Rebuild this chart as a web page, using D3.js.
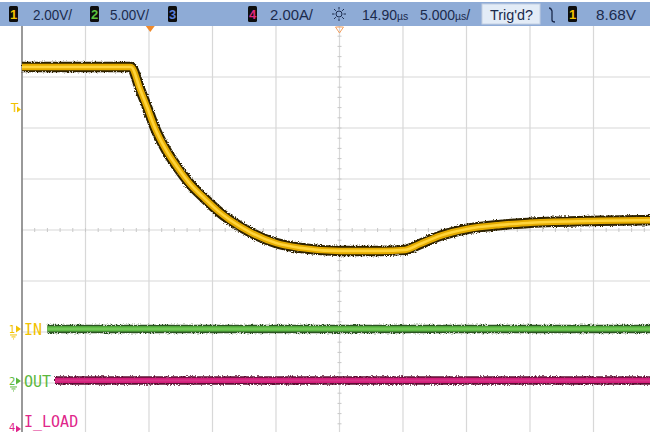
<!DOCTYPE html>
<html>
<head>
<meta charset="utf-8">
<script src="https://cdn.jsdelivr.net/npm/d3@7"></script>
<style>
  html, body { margin: 0; padding: 0; background: #ffffff; }
  svg { display: block; }
</style>
</head>
<body>
<svg id="scope" width="650" height="432"></svg>
<script>
// ---- Capture data -------------------------------------------------------
// Timebase: 5 µs/div, screen centre at 14.90 µs after the trigger.
const timePerDiv = 5.0;
const timeCenter = 14.90;
const hDivs = 10, vDivs = 8;

// Channel 1 (2 V/div): supply rail dip and recovery
const ch1Time  = [-10.1, -1.52, -0.81, -0.26, 0.37, 1.24, 2.18, 3.13, 4.31, 5.33, 6.28, 7.85,
                  9.90, 11.79, 14.94, 18.09, 20.06, 21.24, 22.81, 24.94, 27.54, 29.90, 35.41, 39.9];
const ch1Volts = [10.27, 10.27, 9.41, 8.71, 7.88, 7.02, 6.31, 5.69, 5.10, 4.63, 4.27, 3.80,
                  3.37, 3.18, 3.06, 3.06, 3.10, 3.33, 3.65, 3.92, 4.08, 4.16, 4.24, 4.27];

// Channel 2 (5 V/div): steady level
const ch2Time  = [-8.1, 39.9];
const ch2Volts = [5.1, 5.1];

// Channel 4 (2 A/div): load current
const ch4Time  = [-7.5, 39.9];
const ch4Amps  = [1.9, 1.9];

// Channel settings: scale per division and ground-reference offset (divisions from centre)
const channelNames   = ["1", "2", "4"];
const channelScales  = [2.0, 5.0, 2.0];
const channelOffsets = [-1.94, -2.96, -3.9];
const channelLabels  = ["IN", "OUT", "I_LOAD"];
const triggerLevel = 8.68;

// Status bar texts
const headerTexts = ["2.00V/", "5.00V/", "2.00A/", "14.90", "5.000", "Trig'd?", "8.68V"];
const timeUnit = "µs";

// ---- Layout ---------------------------------------------------------------
const svg = d3.select("#scope");
const gx0 = 22, gx1 = 657, gy0 = 26, gy1 = 434;

const x = d3.scaleLinear()
  .domain([timeCenter - timePerDiv * hDivs / 2, timeCenter + timePerDiv * hDivs / 2])
  .range([gx0, gx1]);
const yDiv = d3.scaleLinear().domain([-vDivs / 2, vDivs / 2]).range([gy1, gy0]);

// one vertical scale per channel, from its units/div and offset
function channelScale(i) {
  const s = channelScales[i], off = channelOffsets[i];
  return d3.scaleLinear()
    .domain([(-vDivs / 2 - off) * s, (vDivs / 2 - off) * s])
    .range([gy1, gy0]);
}
const y1 = channelScale(0), y2 = channelScale(1), y4 = channelScale(2);

const defs = svg.append("defs");
// grainy edge for trace envelopes
const f = defs.append("filter").attr("id", "grain")
  .attr("filterUnits", "userSpaceOnUse")
  .attr("x", 0).attr("y", 0).attr("width", 650).attr("height", 432);
f.append("feTurbulence").attr("type", "fractalNoise").attr("baseFrequency", "0.9")
  .attr("numOctaves", 2).attr("seed", 7).attr("result", "n");
f.append("feDisplacementMap").attr("in", "SourceGraphic").attr("in2", "n")
  .attr("scale", 3.4).attr("xChannelSelector", "R").attr("yChannelSelector", "G");

// ---- Graticule ------------------------------------------------------------
const grid = svg.append("g");
const xGrid = d3.range(1, hDivs).map(k => x.domain()[0] + k * timePerDiv);
const yGrid = d3.range(-vDivs / 2 + 1, vDivs / 2);

grid.selectAll(".vl").data(xGrid).join("line")
  .attr("x1", d => x(d)).attr("x2", d => x(d))
  .attr("y1", gy0).attr("y2", 432)
  .attr("stroke", "#d8d8d8").attr("stroke-width", 1.2);
grid.selectAll(".hl").data(yGrid).join("line")
  .attr("x1", gx0).attr("x2", 650)
  .attr("y1", d => yDiv(d)).attr("y2", d => yDiv(d))
  .attr("stroke", "#d8d8d8").attr("stroke-width", 1.2);

// minor ticks on the centre axes
const minorX = d3.range(0, hDivs * 5 + 1).map(k => x.domain()[0] + k * timePerDiv / 5);
grid.selectAll(".mx").data(minorX).join("line")
  .attr("x1", d => x(d)).attr("x2", d => x(d))
  .attr("y1", yDiv(0) - 2).attr("y2", yDiv(0) + 2)
  .attr("stroke", "#c8c8c8").attr("stroke-width", 1);
const minorY = d3.range(0, vDivs * 5 + 1).map(k => -vDivs / 2 + k / 5);
grid.selectAll(".my").data(minorY).join("line")
  .attr("x1", x(timeCenter) - 2).attr("x2", x(timeCenter) + 2)
  .attr("y1", d => yDiv(d)).attr("y2", d => yDiv(d))
  .attr("stroke", "#c8c8c8").attr("stroke-width", 1);

// left border
grid.append("line")
  .attr("x1", gx0).attr("x2", gx0).attr("y1", gy0).attr("y2", 432)
  .attr("stroke", "#8e8e8e").attr("stroke-width", 1.8);

// ---- Traces ---------------------------------------------------------------
function drawTrace(times, vals, yScale, edge, body, core, wOuter, wBody, wCore, curve) {
  const pts = times.map((t, i) => [t, vals[i]]);
  const line = d3.line().x(d => x(d[0])).y(d => yScale(d[1])).curve(curve);
  const g = svg.append("g");
  g.append("path").attr("d", line(pts)).attr("fill", "none")
    .attr("stroke", edge).attr("stroke-width", wOuter).attr("filter", "url(#grain)");
  g.append("path").attr("d", line(pts)).attr("fill", "none")
    .attr("stroke", body).attr("stroke-width", wBody);
  if (core) {
    g.append("path").attr("d", line(pts)).attr("fill", "none")
      .attr("stroke", core).attr("stroke-width", wCore);
  }
}

drawTrace(ch2Time, ch2Volts, y2, "#2c5220", "#5fbb45", "#72c656", 8.5, 5.2, 2, d3.curveLinear);
drawTrace(ch4Time, ch4Amps, y4, "#5a0e33", "#d21d7a", "#da3487", 8.5, 5.2, 2, d3.curveLinear);
drawTrace(ch1Time, ch1Volts, y1, "#2e2200", "#e4ab00", "#ffd43a", 10.5, 6.5, 2.6, d3.curveMonotoneX);

// ---- Left-edge markers ------------------------------------------------------
const mk = svg.append("g");
const yellow = "#f2c200", green = "#5cb83e", pink = "#e0268a";
// trigger level marker
const ty = y1(triggerLevel);
mk.append("text").attr("x", 11).attr("y", ty + 4.5).text("T")
  .attr("font-family", "DejaVu Sans").attr("font-size", 12).attr("fill", yellow);
mk.append("path").attr("d", `M17,${ty - 1} l4,3 l-4,3 z`).attr("fill", yellow);

// channel ground markers and labels
const markerColors = [yellow, green, pink];
const groundVals = [y1(0), y2(0), y4(0)];
channelNames.forEach((n, i) => {
  const gy = groundVals[i];
  mk.append("text").attr("x", 9).attr("y", Math.min(gy + 4, 431)).text(n)
    .attr("font-family", "DejaVu Sans").attr("font-size", 10).attr("fill", markerColors[i]);
  mk.append("path").attr("d", `M16,${gy - 3.5} l5,3.5 l-5,3.5 z`).attr("fill", markerColors[i]);
  mk.append("path").attr("d", `M10,${gy + 6} h7 M11.5,${gy + 8} h4 M13,${gy + 10} h1`)
    .attr("stroke", markerColors[i]).attr("stroke-width", 1);
  mk.append("text").attr("x", 24).attr("y", Math.min(gy + 6, 427)).text(channelLabels[i])
    .attr("font-family", "DejaVu Sans Mono").attr("font-size", 15).attr("fill", markerColors[i]);
});

// ---- Status bar -----------------------------------------------------------
const hb = svg.append("g");
hb.append("rect").attr("x", 0).attr("y", 2).attr("width", 650).attr("height", 24).attr("fill", "#8eabd6");

function badge(xp, label, color) {
  hb.append("rect").attr("x", xp).attr("y", 6).attr("width", 9).attr("height", 16)
    .attr("rx", 1.5).attr("fill", "#0d0d0d");
  hb.append("text").attr("x", xp + 4.5).attr("y", 19).attr("text-anchor", "middle").text(label)
    .attr("font-family", "Liberation Sans").attr("font-weight", "bold")
    .attr("font-size", 13).attr("fill", color);
}
badge(9, "1", yellow);
badge(90, "2", "#5cc23e");
badge(168, "3", "#5b7fd8");
badge(248, "4", "#e2287f");
badge(568, "1", yellow);

const txt = (xp, s, w) => {
  const t = hb.append("text").attr("x", xp).attr("y", 19.5)
    .attr("font-family", "Liberation Sans").attr("font-size", 15).attr("fill", "#1b2a4c");
  t.text(s);
  if (w) t.attr("textLength", w).attr("lengthAdjust", "spacingAndGlyphs");
  return t;
};
txt(33, headerTexts[0], 39);
txt(110, headerTexts[1], 39);
txt(270, headerTexts[2], 43);

// time values with a compact unit glyph
function timeText(xp, num, suffix) {
  const t = hb.append("text").attr("x", xp).attr("y", 19.5)
    .attr("font-family", "Liberation Sans").attr("font-size", 14).attr("fill", "#1b2a4c");
  t.append("tspan").text(num);
  t.append("tspan").text(timeUnit).attr("font-size", 10.5);
  if (suffix) t.append("tspan").text(suffix);
}
timeText(362, headerTexts[3], "");
timeText(420, headerTexts[4], "/");

hb.append("rect").attr("x", 482).attr("y", 4).attr("width", 58).attr("height", 20)
  .attr("fill", "#e3ecf7").attr("stroke", "#c3d0e2");
txt(490, headerTexts[5], 43);
txt(596, headerTexts[6], 40);

// sun (intensity) icon
const sun = hb.append("g").attr("transform", "translate(339,14)")
  .attr("stroke", "#1b2a4c").attr("stroke-width", 1).attr("fill", "none");
sun.append("circle").attr("r", 3);
d3.range(8).forEach(k => {
  const a = k * Math.PI / 4;
  sun.append("line").attr("x1", 4.5 * Math.cos(a)).attr("y1", 4.5 * Math.sin(a))
    .attr("x2", 7 * Math.cos(a)).attr("y2", 7 * Math.sin(a));
});
// trigger edge symbol
hb.append("path").attr("d", "M549,8 q2,0 3,3 v9 q0,2 3,2")
  .attr("stroke", "#1b2a4c").attr("stroke-width", 1.3).attr("fill", "none");

// ---- Top position markers -------------------------------------------------
const tTrig = 0;
svg.append("path").attr("d", `M${x(tTrig) - 4.5},26 h9 l-4.5,6 z`).attr("fill", "#f0892a");
const xc = x(timeCenter);
svg.append("path").attr("d", `M${xc - 4},27 h8 l-4,6 z`)
  .attr("fill", "none").attr("stroke", "#f3a060").attr("stroke-width", 1);
</script>
</body>
</html>
